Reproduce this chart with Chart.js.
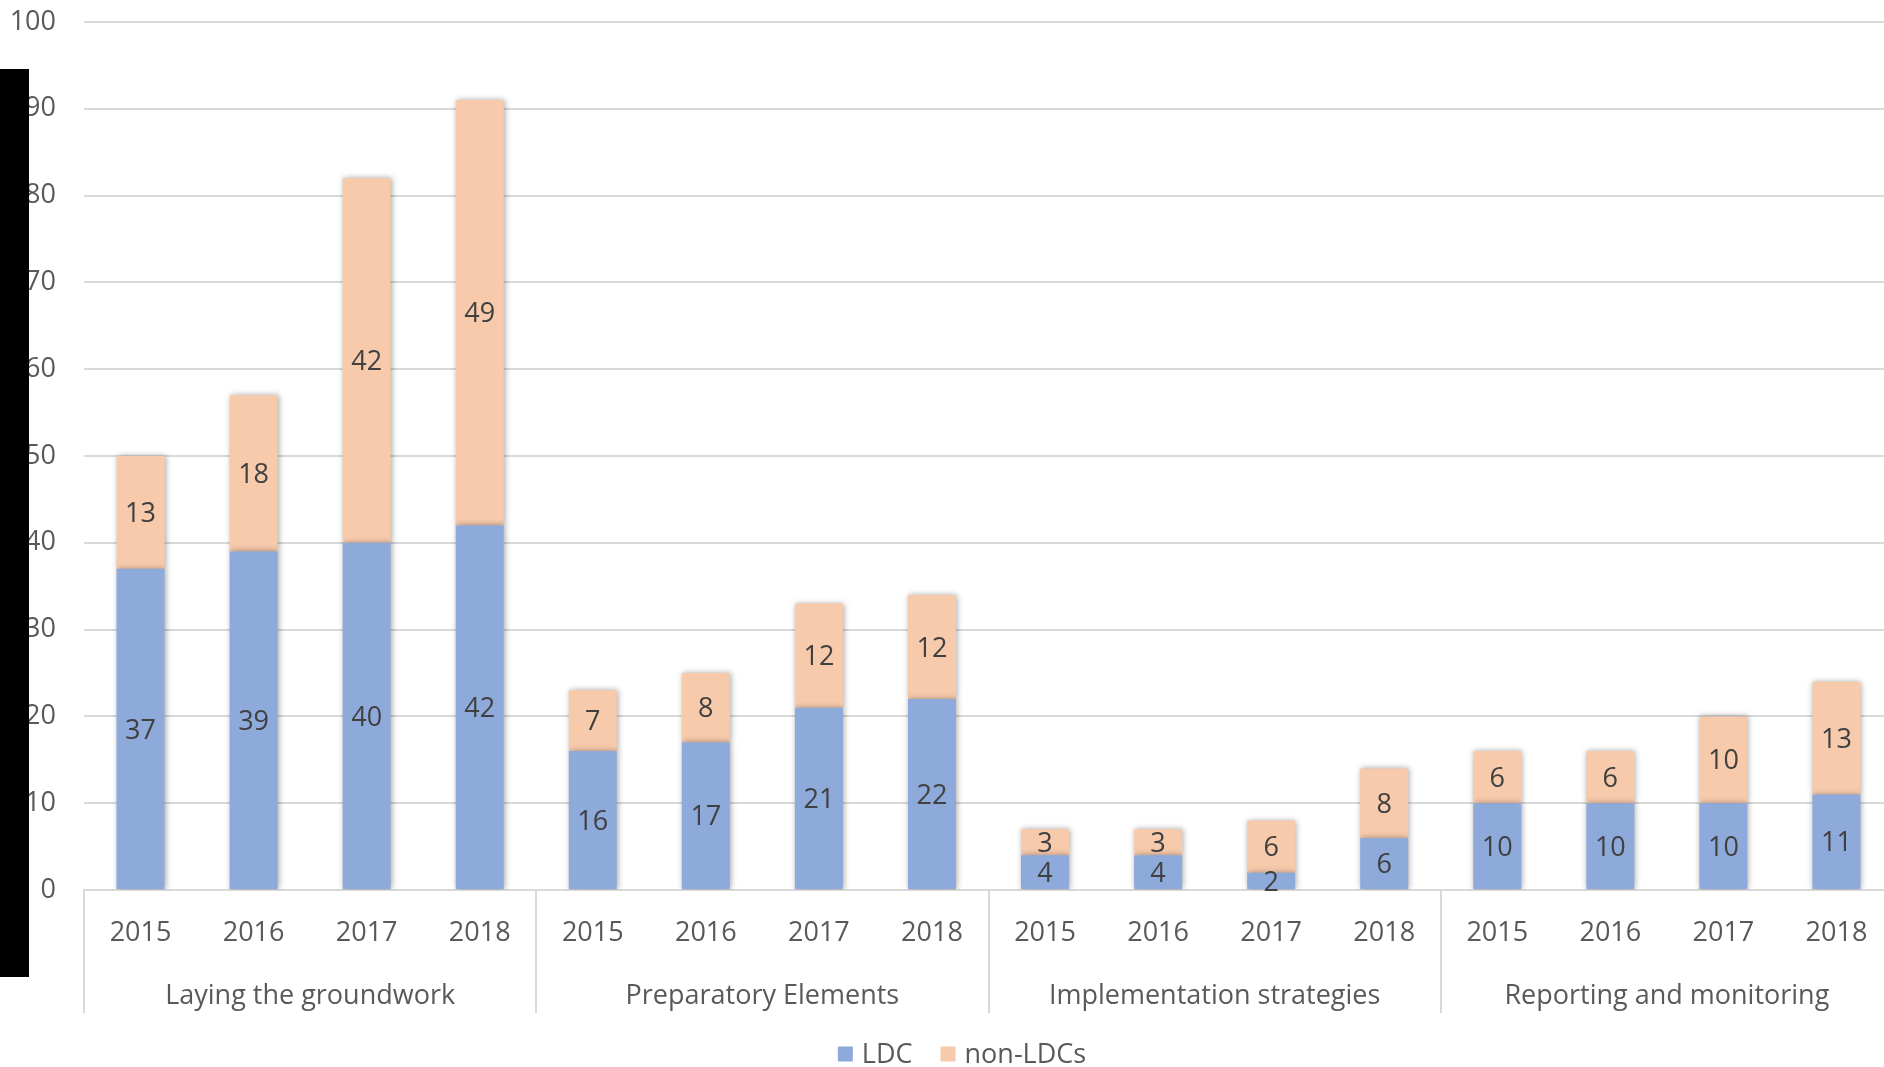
<!DOCTYPE html>
<html>
<head>
<meta charset="utf-8">
<script src="https://cdn.jsdelivr.net/npm/chart.js@4.4.0/dist/chart.umd.min.js"></script>
<style>
  html, body { margin: 0; padding: 0; background: #fff; overflow: hidden; }
  canvas { display: block; }
</style>
</head>
<body>
<canvas id="chart" width="1924" height="1067"></canvas>
<script>
// Categories: four NAP process stages, each reported for four years
const groups = ['Laying the groundwork', 'Preparatory Elements', 'Implementation strategies', 'Reporting and monitoring'];
const years = ['2015', '2016', '2017', '2018'];

// Counts per stage and year
const ldc    = [37, 39, 40, 42, 16, 17, 21, 22, 4, 4, 2, 6, 10, 10, 10, 11];
const nonLdc = [13, 18, 42, 49, 7, 8, 12, 12, 3, 3, 6, 8, 6, 6, 10, 13];

// Value axis
const yMin = 0;
const yMax = 100;
const yStep = 10;

const labels = groups.flatMap(() => years);

const FONT = '"Open Sans", "Noto Sans", sans-serif';
const FONT_SIZE = 27;
const AXIS_COLOR = '#595959';
const LABEL_COLOR = '#404040';
const GRID_COLOR = '#d9d9d9';

// Soft drop shadow behind the bars
const barShadow = {
  id: 'barShadow',
  beforeDatasetDraw(chart) {
    const ctx = chart.ctx;
    ctx.save();
    ctx.shadowColor = 'rgba(0,0,0,0.35)';
    ctx.shadowBlur = 6;
    ctx.shadowOffsetX = 1;
    ctx.shadowOffsetY = 0;
  },
  afterDatasetDraw(chart) {
    chart.ctx.restore();
  }
};

// Value written in the middle of every segment
const segmentLabels = {
  id: 'segmentLabels',
  afterDatasetsDraw(chart) {
    const ctx = chart.ctx;
    ctx.save();
    ctx.font = `${FONT_SIZE}px ${FONT}`;
    ctx.fillStyle = LABEL_COLOR;
    ctx.textAlign = 'center';
    ctx.textBaseline = 'middle';
    chart.data.datasets.forEach((ds, i) => {
      const meta = chart.getDatasetMeta(i);
      meta.data.forEach((bar, j) => {
        const p = bar.getProps(['x', 'y', 'base'], true);
        ctx.fillText(String(ds.data[j]), p.x, (p.y + p.base) / 2 + 2);
      });
    });
    ctx.restore();
  }
};

// Second row of the category axis: stage names and separators
const groupAxis = {
  id: 'groupAxis',
  afterDraw(chart) {
    const ctx = chart.ctx;
    const xs = chart.scales.x;
    const top = chart.chartArea.bottom;
    const bottom = top + 123;
    const per = years.length;
    ctx.save();
    ctx.strokeStyle = GRID_COLOR;
    ctx.lineWidth = 2;
    for (let g = 0; g <= groups.length; g++) {
      let x;
      if (g === 0) x = chart.chartArea.left;
      else if (g === groups.length) x = chart.chartArea.right;
      else x = (xs.getPixelForValue(g * per - 1) + xs.getPixelForValue(g * per)) / 2;
      ctx.beginPath();
      ctx.moveTo(Math.round(x), top);
      ctx.lineTo(Math.round(x), bottom);
      ctx.stroke();
    }
    ctx.font = `${FONT_SIZE}px ${FONT}`;
    ctx.fillStyle = AXIS_COLOR;
    ctx.textAlign = 'center';
    ctx.textBaseline = 'middle';
    groups.forEach((name, g) => {
      const x0 = xs.getPixelForValue(g * per);
      const x1 = xs.getPixelForValue(g * per + per - 1);
      ctx.fillText(name, (x0 + x1) / 2, top + 106);
    });
    ctx.restore();
  }
};

// Legend row under the axis
const bottomLegend = {
  id: 'bottomLegend',
  afterDraw(chart) {
    const ctx = chart.ctx;
    ctx.save();
    ctx.font = `${FONT_SIZE}px ${FONT}`;
    const box = 15, gapText = 9, gapItem = 28;
    const items = chart.data.datasets.map(ds => ({ label: ds.label, color: ds.backgroundColor }));
    let total = 0;
    items.forEach((it, i) => {
      it.w = box + gapText + ctx.measureText(it.label).width;
      total += it.w + (i ? gapItem : 0);
    });
    let x = chart.width / 2 - total / 2;
    const cy = 1054;
    ctx.textBaseline = 'middle';
    ctx.textAlign = 'left';
    items.forEach(it => {
      ctx.fillStyle = it.color;
      ctx.fillRect(x, cy - box / 2, box, box);
      ctx.fillStyle = AXIS_COLOR;
      ctx.fillText(it.label, x + box + gapText, cy + 1);
      x += it.w + gapItem;
    });
    ctx.restore();
  }
};

// Dark strip along the left edge
const edgeStrip = {
  id: 'edgeStrip',
  afterDraw(chart) {
    const ctx = chart.ctx;
    ctx.save();
    ctx.fillStyle = '#000';
    ctx.fillRect(0, 69, 29, 908);
    ctx.restore();
  }
};

function draw() {
  new Chart(document.getElementById('chart'), {
    type: 'bar',
    data: {
      labels: labels,
      datasets: [
        { label: 'LDC', data: ldc, backgroundColor: '#8eaadb', borderWidth: 0 },
        { label: 'non-LDCs', data: nonLdc, backgroundColor: '#f7caac', borderWidth: 0 }
      ]
    },
    options: {
      responsive: false,
      animation: false,
      devicePixelRatio: 1,
      layout: { padding: { top: 0, right: 31, bottom: 54, left: 0 } },
      datasets: { bar: { categoryPercentage: 1, barPercentage: 0.425 } },
      plugins: {
        legend: { display: false },
        tooltip: { enabled: false }
      },
      scales: {
        x: {
          stacked: true,
          grid: { display: false, drawTicks: false },
          border: { display: true, color: GRID_COLOR, width: 2 },
          ticks: {
            color: AXIS_COLOR,
            font: { family: FONT, size: FONT_SIZE },
            padding: 27,
            maxRotation: 0,
            autoSkip: false
          },
          afterFit(scale) { scale.height = 123; }
        },
        y: {
          stacked: true,
          min: yMin,
          max: yMax,
          grid: { color: GRID_COLOR, lineWidth: 2, drawTicks: false },
          border: { display: false },
          ticks: {
            stepSize: yStep,
            color: AXIS_COLOR,
            font: { family: FONT, size: FONT_SIZE },
            padding: 28
          },
          afterFit(scale) {
            scale.width = 84;
            scale.paddingTop = 22;
            scale.paddingBottom = 0;
          }
        }
      }
    },
    plugins: [barShadow, segmentLabels, groupAxis, bottomLegend, edgeStrip]
  });
}

if (document.fonts && document.fonts.load) {
  document.fonts.load(`${FONT_SIZE}px "Open Sans"`).then(draw, draw);
} else {
  draw();
}
</script>
</body>
</html>
